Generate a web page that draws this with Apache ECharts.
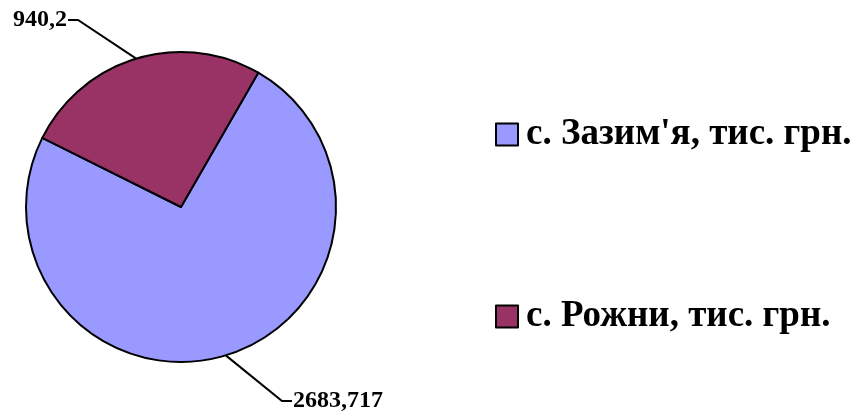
<!DOCTYPE html>
<html>
<head>
<meta charset="utf-8">
<script src="https://cdn.jsdelivr.net/npm/echarts@6/dist/echarts.min.js"></script>
<style>
  html, body { margin: 0; padding: 0; background: #fff; }
  #chart { width: 855px; height: 412px; }
</style>
</head>
<body>
<div id="chart"></div>
<script>
// дані діаграми
const names = ["с. Зазим'я, тис. грн.", "с. Рожни, тис. грн."];
const values = [2683.717, 940.2];
const labels = ["2683,717", "940,2"];
const colors = ["#9999FF", "#993366"];

const myChart = echarts.init(document.getElementById("chart"));

// де стоять підписи значень
const labelPos = [
  { x: 293, y: 401, align: "left" },
  { x: 67, y: 20, align: "right" },
];

let option = {
  animation: false,
  backgroundColor: "#fff",
  legend: {
    orient: "vertical",
    left: 490,
    top: 111,
    itemWidth: 22,
    itemHeight: 22,
    itemGap: 145,
    icon: "rect",
    data: names,
    itemStyle: { borderColor: "#000", borderWidth: 2 },
    textStyle: {
      fontFamily: "Liberation Serif",
      fontWeight: "bold",
      fontSize: 37,
      color: "#000",
      padding: [0, 0, 0, 3],
    },
  },
  series: [
    {
      type: "pie",
      center: [181, 207],
      radius: 155,
      startAngle: 60.1,
      clockwise: true,
      itemStyle: {
        borderColor: "#000",
        borderWidth: 2,
      },
      label: {
        show: true,
        position: "outside",
        formatter: (p) => labels[p.dataIndex],
        fontFamily: "Liberation Serif",
        fontWeight: "bold",
        fontSize: 24,
        color: "#000",
      },
      labelLine: {
        show: true,
        lineStyle: { color: "#000", width: 2 },
      },
      labelLayout: (params) => {
        const pos = labelPos[params.dataIndex];
        const p0 = params.labelLinePoints[0];
        const dir = pos.align === "left" ? -1 : 1;
        return {
          x: pos.x,
          y: pos.y,
          align: pos.align,
          verticalAlign: "middle",
          labelLinePoints: [
            p0,
            [pos.x + dir * 11, pos.y],
            [pos.x + dir * 1, pos.y],
          ],
        };
      },
      emphasis: { disabled: true },
      data: names.map((n, i) => ({
        name: n,
        value: values[i],
        itemStyle: { color: colors[i] },
      })),
    },
  ],
};

myChart.setOption(option);
</script>
</body>
</html>
